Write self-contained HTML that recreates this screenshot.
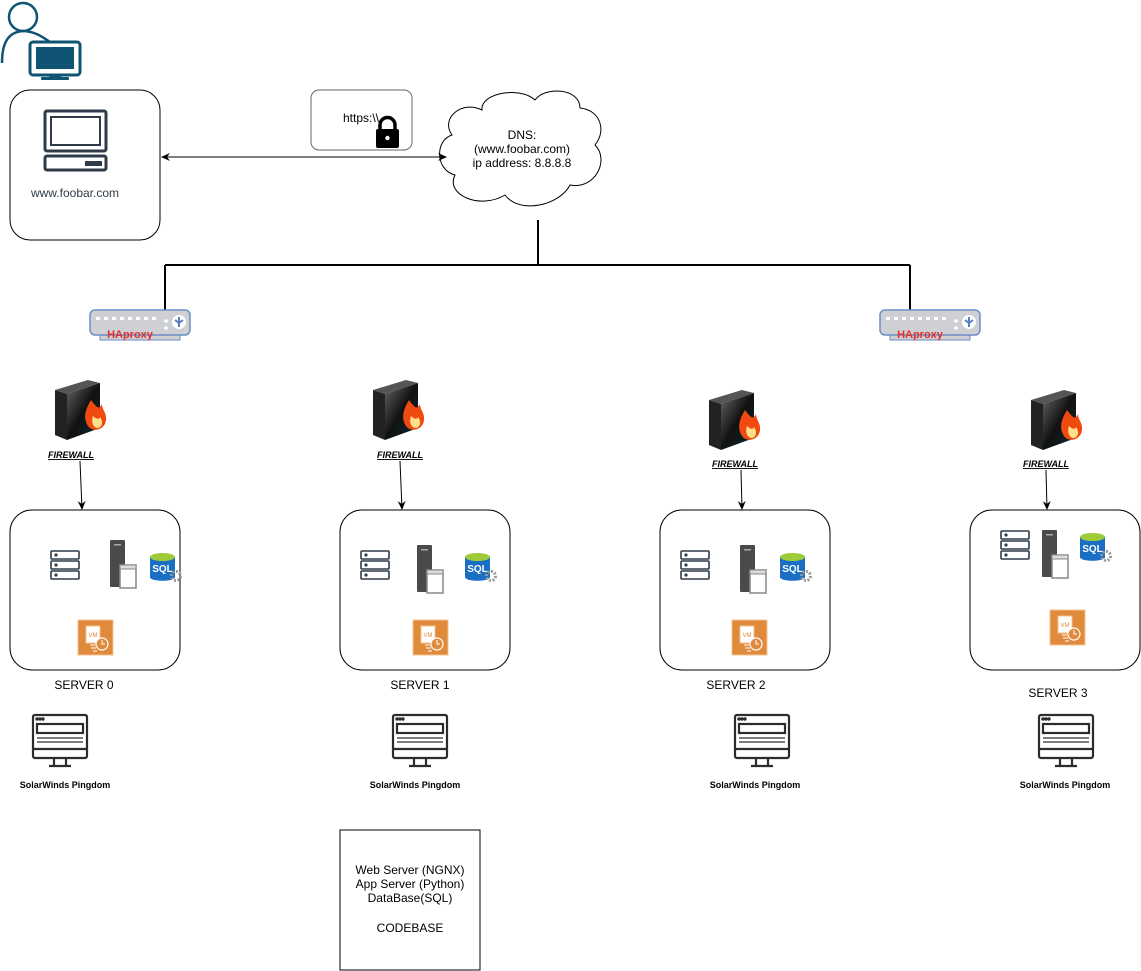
<!DOCTYPE html>
<html><head><meta charset="utf-8"><style>
html,body{margin:0;padding:0;background:#fff;}
svg{display:block;font-family:"Liberation Sans",sans-serif;}
</style></head><body>
<svg width="1141" height="971" viewBox="0 0 1141 971" xmlns="http://www.w3.org/2000/svg">
<defs>
<marker id="ah" markerWidth="10" markerHeight="10" refX="8" refY="5" orient="auto" markerUnits="userSpaceOnUse">
<path d="M0,1 L9,5 L0,9 L3,5 Z" fill="#000"/></marker>
<linearGradient id="fwg" x1="0" y1="0" x2="1" y2="1"><stop offset="0" stop-color="#666"/><stop offset="0.5" stop-color="#111"/><stop offset="1" stop-color="#0a2a35"/></linearGradient>
<g id="fw">
<polygon points="0,10 33,0 45,3 12,14" fill="#555"/>
<polygon points="0,10 12,14 12,60 0,55" fill="#222"/>
<polygon points="12,14 45,3 45,48 12,60" fill="url(#fwg)"/>
<path d="M36,20 C30,30 28,38 33,46 C38,53 50,50 51,40 C52,33 47,30 47,24 C44,30 42,28 36,20 Z" fill="#f04a10"/>
<path d="M38,36 C36,42 38,48 43,48 C48,47 48,41 45,37 C44,40 41,39 38,36 Z" fill="#ffe08a"/>
</g>
<g id="rack" fill="#fff" stroke="#2f3b48" stroke-width="1.6">
<rect x="1" y="1" width="28" height="8" rx="1"/><rect x="1" y="11" width="28" height="8" rx="1"/><rect x="1" y="21" width="28" height="8" rx="1"/>
<circle cx="6" cy="5" r="0.8" fill="#2f3b48"/><circle cx="6" cy="15" r="0.8" fill="#2f3b48"/><circle cx="6" cy="25" r="0.8" fill="#2f3b48"/>
</g>
<g id="tower">
<rect x="0" y="0" width="15" height="47" rx="1" fill="#4a4a4a"/>
<rect x="4" y="4" width="7" height="1.5" fill="#aaa"/>
<rect x="10" y="25" width="16" height="23" fill="#fff" stroke="#888" stroke-width="1.5"/>
<rect x="10" y="25" width="16" height="4" fill="#ddd" stroke="#888" stroke-width="1"/>
</g>
<g id="sql">
<path d="M0,5 L0,25 C0,30 25,30 25,25 L25,5 Z" fill="#1a6fc4"/>
<ellipse cx="12.5" cy="5" rx="12.5" ry="4" fill="#9fcb3a"/>
<text x="12.5" y="20" font-size="10" font-weight="bold" fill="#fff" text-anchor="middle">SQL</text>
<circle cx="26" cy="24" r="4.5" fill="none" stroke="#999" stroke-width="3" stroke-dasharray="2 1.5"/>
</g>
<g id="vm">
<rect x="0" y="0" width="35" height="35" fill="#e08a3c" stroke="#f3c28f" stroke-width="1"/>
<rect x="8" y="6" width="14" height="17" fill="#fff" stroke="#f3c28f"/>
<text x="15" y="17" font-size="6" fill="#e08a3c" text-anchor="middle">VM</text>
<circle cx="24" cy="24" r="6" fill="#e08a3c" stroke="#fff" stroke-width="1.2"/>
<path d="M24,20 V24 H27" stroke="#fff" fill="none" stroke-width="1"/>
<path d="M12,25 H17 M13,28 H18 M15,31 H19" stroke="#fff" stroke-width="1"/>
</g>
<g id="ping" fill="none" stroke="#2c2c2c" stroke-width="2.2">
<rect x="1" y="1" width="54" height="43" rx="2"/>
<line x1="1" y1="35" x2="55" y2="35"/>
<rect x="5" y="10" width="46" height="9"/>
<line x1="5" y1="24" x2="51" y2="24" stroke-width="1.2"/><line x1="5" y1="28" x2="51" y2="28" stroke-width="1.2"/>
<path d="M22,44 V52 M34,44 V52 M17,52 H39"/>
<circle cx="5" cy="5" r="0.6" fill="#2c2c2c"/><circle cx="8" cy="5" r="0.6" fill="#2c2c2c"/><circle cx="11" cy="5" r="0.6" fill="#2c2c2c"/>
</g>
<g id="ha">
<rect x="10" y="24" width="80" height="6" fill="#cfd0d3" stroke="#6b8ec7" stroke-width="1"/>
<rect x="0" y="0" width="100" height="25" rx="5" fill="#cfd0d3" stroke="#6b8ec7" stroke-width="1.5"/>
<g fill="#fff"><rect x="6" y="7" width="4" height="3"/><rect x="14" y="7" width="4" height="3"/><rect x="22" y="7" width="4" height="3"/><rect x="30" y="7" width="4" height="3"/><rect x="38" y="7" width="4" height="3"/><rect x="46" y="7" width="4" height="3"/><rect x="54" y="7" width="4" height="3"/><rect x="62" y="7" width="4" height="3"/></g>
<circle cx="76" cy="11" r="1.8" fill="#fff"/><circle cx="76" cy="18" r="1.8" fill="#fff"/>
<circle cx="89" cy="12" r="7" fill="#fff"/>
<path d="M89,7 V17 M85,10 L89,13 L93,10" stroke="#5a7fbf" stroke-width="2" fill="none"/>
<text x="40" y="28" font-size="11" font-weight="bold" fill="#e0302f" text-anchor="middle">HAproxy</text>
</g>
</defs>

<!-- user -->
<g fill="none" stroke="#0f5473" stroke-width="2.5">
<circle cx="23" cy="17" r="14"/>
<path d="M2,63 C2,40 10,32 23,31 C35,31 44,38 50,42"/>
</g>
<rect x="30" y="42" width="50" height="33" rx="3" fill="#fff" stroke="#0f5473" stroke-width="3"/>
<rect x="36" y="47" width="38" height="22" fill="#0f5473"/>
<rect x="49" y="75" width="12" height="3" fill="#0f5473"/><rect x="41" y="77" width="28" height="3" rx="1" fill="#0f5473"/>

<!-- client -->
<rect x="10" y="90" width="150" height="150" rx="20" fill="#fff" stroke="#000" stroke-width="1"/>
<rect x="45" y="111" width="61" height="40" rx="2" fill="none" stroke="#2f3b48" stroke-width="3"/>
<rect x="51" y="117" width="49" height="28" fill="none" stroke="#2f3b48" stroke-width="2"/>
<rect x="45" y="156" width="61" height="14" rx="2" fill="none" stroke="#2f3b48" stroke-width="3"/>
<rect x="85" y="161" width="17" height="5" fill="#2f3b48"/>
<text x="75" y="197" font-size="12" fill="#2f3b48" text-anchor="middle">www.foobar.com</text>

<rect x="311" y="90" width="101" height="60" rx="8" fill="#fff" stroke="#666"/>
<text x="343" y="122" font-size="12">https:\\</text>
<path d="M380,130 V125 A7.5,7.5 0 0 1 395,125 V130" fill="none" stroke="#000" stroke-width="3.5"/>
<rect x="376" y="129" width="23" height="19" rx="2" fill="#000"/>
<circle cx="387.5" cy="138" r="2.2" fill="#fff"/>

<!-- cloud -->
<path d="M482,110 C480,93 520,86 535,100 C545,86 580,88 580,108 C600,110 607,130 595,145 C610,160 595,190 570,185 C560,205 520,215 505,195 C480,210 445,195 455,175 C435,170 435,140 452,135 C440,118 462,100 482,110 Z" fill="#fff" stroke="#000" stroke-width="1"/>
<text font-size="12" text-anchor="middle"><tspan x="522" y="139">DNS:</tspan><tspan x="522" y="153">(www.foobar.com)</tspan><tspan x="522" y="167">ip address: 8.8.8.8</tspan></text>

<line x1="446" y1="157" x2="162" y2="157" stroke="#000" marker-end="url(#ah)"/>
<line x1="162" y1="157" x2="446" y2="157" stroke="#000" marker-end="url(#ah)"/>

<path d="M538,220 V265 M165,265 H910 M165,265 V310 M910,265 V310" stroke="#000" stroke-width="2" fill="none"/>
<use href="#ha" x="90" y="310"/>
<use href="#ha" x="880" y="310"/>

<!-- firewalls -->
<use href="#fw" x="55" y="380"/>
<use href="#fw" x="373" y="380"/>
<use href="#fw" x="709" y="390"/>
<use href="#fw" x="1031" y="390"/>
<g font-size="9" font-weight="bold" font-style="italic" text-anchor="middle" text-decoration="underline">
<text x="71" y="458">FIREWALL</text><text x="400" y="458">FIREWALL</text>
<text x="735" y="467">FIREWALL</text><text x="1046" y="467">FIREWALL</text>
</g>
<g stroke="#000" stroke-width="1">
<line x1="80" y1="461" x2="82" y2="509" marker-end="url(#ah)"/>
<line x1="400" y1="461" x2="402" y2="509" marker-end="url(#ah)"/>
<line x1="741" y1="470" x2="742" y2="509" marker-end="url(#ah)"/>
<line x1="1046" y1="470" x2="1047" y2="509" marker-end="url(#ah)"/>
</g>

<!-- servers -->
<g fill="#fff" stroke="#000" stroke-width="1">
<rect x="10" y="510" width="170" height="160" rx="22"/>
<rect x="340" y="510" width="170" height="160" rx="22"/>
<rect x="660" y="510" width="170" height="160" rx="22"/>
<rect x="970" y="510" width="170" height="160" rx="22"/>
</g>
<use href="#rack" x="50" y="550"/><use href="#tower" x="110" y="540"/><use href="#sql" x="150" y="552"/><use href="#vm" x="78" y="620"/>
<use href="#rack" x="360" y="550"/><use href="#tower" x="417" y="545"/><use href="#sql" x="465" y="552"/><use href="#vm" x="413" y="620"/>
<use href="#rack" x="680" y="550"/><use href="#tower" x="740" y="545"/><use href="#sql" x="780" y="552"/><use href="#vm" x="732" y="620"/>
<use href="#rack" x="1000" y="530"/><use href="#tower" x="1042" y="530"/><use href="#sql" x="1080" y="532"/><use href="#vm" x="1050" y="610"/>

<g font-size="12" text-anchor="middle">
<text x="84" y="689">SERVER 0</text><text x="420" y="689">SERVER 1</text>
<text x="736" y="689">SERVER 2</text><text x="1058" y="697">SERVER 3</text>
</g>

<use href="#ping" x="32" y="714"/><use href="#ping" x="392" y="714"/>
<use href="#ping" x="734" y="714"/><use href="#ping" x="1038" y="714"/>
<g font-size="9" font-weight="bold" text-anchor="middle">
<text x="65" y="788">SolarWinds Pingdom</text><text x="415" y="788">SolarWinds Pingdom</text>
<text x="755" y="788">SolarWinds Pingdom</text><text x="1065" y="788">SolarWinds Pingdom</text>
</g>

<rect x="340" y="830" width="140" height="140" fill="#fff" stroke="#000"/>
<text font-size="12" text-anchor="middle"><tspan x="410" y="874">Web Server (NGNX)</tspan><tspan x="410" y="888">App Server (Python)</tspan><tspan x="410" y="902">DataBase(SQL)</tspan><tspan x="410" y="932">CODEBASE</tspan></text>
</svg>
</body></html>
